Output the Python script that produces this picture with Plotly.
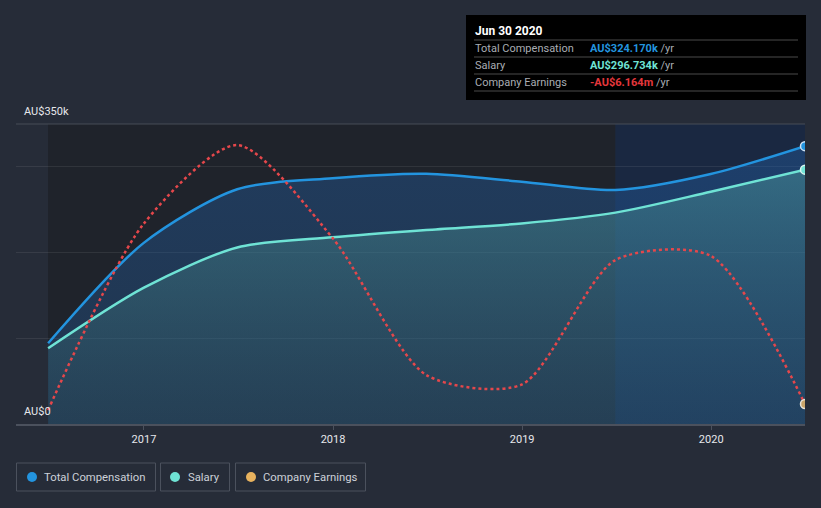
import plotly.graph_objects as go

# ---------------- data ----------------
dates = ["2016-06-30", "2016-12-31", "2017-06-30", "2017-12-31", "2018-06-30",
         "2018-12-31", "2019-06-30", "2019-12-31", "2020-06-30"]
total_comp = [94.2, 211.0, 273.8, 286.7, 292.0, 282.7, 273.0, 291.7, 324.17]      # AU$k
salary = [88.3, 158.7, 206.0, 217.8, 226.4, 234.0, 246.6, 271.0, 296.734]          # AU$k
earnings = [-6.31, -1.86, 0.03, -2.19, -5.47, -5.70, -2.72, -2.62, -6.164]         # AU$m
year_ticks = ["2017-01-01", "2018-01-01", "2019-01-01", "2020-01-01"]
year_labels = ["2017", "2018", "2019", "2020"]
y_labels = ["AU$350k", "AU$0"]
legend_names = ["Total Compensation", "Salary", "Company Earnings"]
tooltip_date = "Jun 30 2020"
tooltip_values = ["AU$324.170k", "AU$296.734k", "-AU$6.164m"]

# ---------------- style ----------------
BG = "#262c38"
BLUE = "#2394df"
MINT = "#6fe3d5"
RED = "#e5474b"
GOLD = "#e8b25e"
FONT = "Roboto"

W, H = 821, 508
ML, MR, MT, MB = 16, 16, 124, 84
PW, PH = W - ML - MR, H - MT - MB


def px(x):
    return (x - ML) / PW


def py(y):
    return (H - MB - y) / PH


fig = go.Figure()

fig.add_trace(go.Scatter(
    x=dates, y=total_comp, mode="lines", name=legend_names[0],
    line=dict(color=BLUE, width=2.5, shape="spline", smoothing=0.8),
    fill="tozeroy",
    fillgradient=dict(type="vertical",
                      colorscale=[[0, "rgba(35,95,160,0.30)"], [1, "rgba(35,100,175,0.38)"]]),
    hoverinfo="skip", showlegend=False))

fig.add_trace(go.Scatter(
    x=dates, y=salary, mode="lines", name=legend_names[1],
    line=dict(color=MINT, width=2.5, shape="spline", smoothing=0.8),
    fill="tozeroy",
    fillgradient=dict(type="vertical",
                      colorscale=[[0, "rgba(60,110,115,0.18)"], [1, "rgba(80,160,160,0.45)"]]),
    hoverinfo="skip", showlegend=False))

fig.add_trace(go.Scatter(
    x=dates, y=earnings, mode="lines", name=legend_names[2], yaxis="y2",
    line=dict(color=RED, width=2.5, dash="dot", shape="spline", smoothing=0.75),
    hoverinfo="skip", showlegend=False))

# end markers
fig.add_trace(go.Scatter(x=dates[-1:], y=total_comp[-1:], mode="markers",
                         marker=dict(size=9, color=BLUE, line=dict(color="#cfe3f5", width=1.5)),
                         hoverinfo="skip", showlegend=False))
fig.add_trace(go.Scatter(x=dates[-1:], y=salary[-1:], mode="markers",
                         marker=dict(size=9, color=MINT, line=dict(color="#d8f5f0", width=1.5)),
                         hoverinfo="skip", showlegend=False))
fig.add_trace(go.Scatter(x=dates[-1:], y=earnings[-1:], mode="markers", yaxis="y2",
                         marker=dict(size=9, color="#c9a56a", line=dict(color="#e8e3d8", width=1.5)),
                         hoverinfo="skip", showlegend=False))

shapes = [
    # past (dark) region
    dict(type="rect", xref="x", yref="paper", x0=dates[0], x1="2019-06-30", y0=0, y1=1,
         fillcolor="#1f232b", line=dict(width=0), layer="below"),
    # last-year highlight
    dict(type="rect", xref="x", yref="paper", x0="2019-06-30", x1=dates[-1], y0=0, y1=1,
         fillcolor="#1a2841", line=dict(width=0), layer="below"),
    # top line
    dict(type="line", xref="paper", yref="paper", x0=0, x1=1, y0=1, y1=1,
         line=dict(color="#474c57", width=1)),
]

annotations = [
    dict(x=px(22), y=py(112), xref="paper", yref="paper", text=y_labels[0], showarrow=False,
         xanchor="left", yanchor="middle", font=dict(family=FONT, size=11, color="#e6e8ec")),
    dict(x=px(22), y=py(411), xref="paper", yref="paper", text=y_labels[1], showarrow=False,
         xanchor="left", yanchor="middle", font=dict(family=FONT, size=11, color="#e6e8ec")),
]

# legend boxes
legend_boxes = [(16, 156, 32, 42), (160, 230, 175, 186), (235, 366, 251, 261)]
legend_colors = [BLUE, MINT, GOLD]
for (bx0, bx1, cx, tx), col, name in zip(legend_boxes, legend_colors, legend_names):
    shapes.append(dict(type="rect", xref="paper", yref="paper",
                       x0=px(bx0 + 0.5), x1=px(bx1 - 0.5), y0=py(491), y1=py(463),
                       line=dict(color="#4b515d", width=1), fillcolor="rgba(0,0,0,0)"))
    shapes.append(dict(type="circle", xref="paper", yref="paper",
                       xsizemode="pixel", ysizemode="pixel",
                       xanchor=px(cx), yanchor=py(477), x0=-5, x1=5, y0=-5, y1=5,
                       fillcolor=col, line=dict(width=0)))
    annotations.append(dict(x=px(tx), y=py(477.5), xref="paper", yref="paper", text=name,
                            showarrow=False, xanchor="left", yanchor="middle",
                            font=dict(family=FONT, size=11.3, color="#cdd1d8")))

# tooltip box
shapes.append(dict(type="rect", xref="paper", yref="paper", x0=px(466), x1=px(806),
                   y0=py(100), y1=py(15), fillcolor="#000000", line=dict(width=0)))
for ly in [40, 57, 74, 91]:
    shapes.append(dict(type="line", xref="paper", yref="paper", x0=px(474), x1=px(798),
                       y0=py(ly), y1=py(ly), line=dict(color="#4a4a4a", width=1)))
annotations.append(dict(x=px(473), y=py(31), xref="paper", yref="paper",
                        text="<b>" + tooltip_date + "</b>", showarrow=False,
                        xanchor="left", yanchor="middle",
                        font=dict(family=FONT, size=12, color="#ffffff")))
row_names = ["Total Compensation", "Salary", "Company Earnings"]
row_colors = [BLUE, MINT, "#e5373c"]
for ry, nm, val, col in zip([48.5, 65.5, 82.5], row_names, tooltip_values, row_colors):
    annotations.append(dict(x=px(473), y=py(ry), xref="paper", yref="paper", text=nm,
                            showarrow=False, xanchor="left", yanchor="middle",
                            font=dict(family=FONT, size=11, color="#a9adb3")))
    annotations.append(dict(x=px(588), y=py(ry), xref="paper", yref="paper",
                            text=f"<b><span style='color:{col}'>{val}</span></b> /yr",
                            showarrow=False, xanchor="left", yanchor="middle",
                            font=dict(family=FONT, size=11, color="#a9adb3")))

fig.update_layout(
    width=W, height=H,
    margin=dict(l=ML, r=MR, t=MT, b=MB, pad=0),
    paper_bgcolor=BG, plot_bgcolor=BG,
    font=dict(family=FONT, color="#e6e8ec"),
    showlegend=False,
    xaxis=dict(type="date", range=["2016-04-29", dates[-1]],
               tickvals=year_ticks, ticktext=year_labels,
               tickfont=dict(family=FONT, size=11, color="#e6e8ec"),
               showgrid=False, zeroline=False,
               showline=True, linecolor="#4b515d", linewidth=1.5,
               ticks="outside", ticklen=4, tickcolor="#4b515d"),
    yaxis=dict(range=[0, 350], tickvals=[100, 200, 300], showticklabels=False,
               showgrid=True, gridcolor="rgba(255,255,255,0.08)", gridwidth=1,
               zeroline=False, showline=False, fixedrange=True),
    yaxis2=dict(range=[-6.642, 0.535], overlaying="y", side="right", visible=False,
                showgrid=False, zeroline=False),
    shapes=shapes, annotations=annotations,
)

fig.write_html("out.html", config={"displayModeBar": False},
               post_script="document.body.style.margin='0';document.body.style.background='#262c38';")
